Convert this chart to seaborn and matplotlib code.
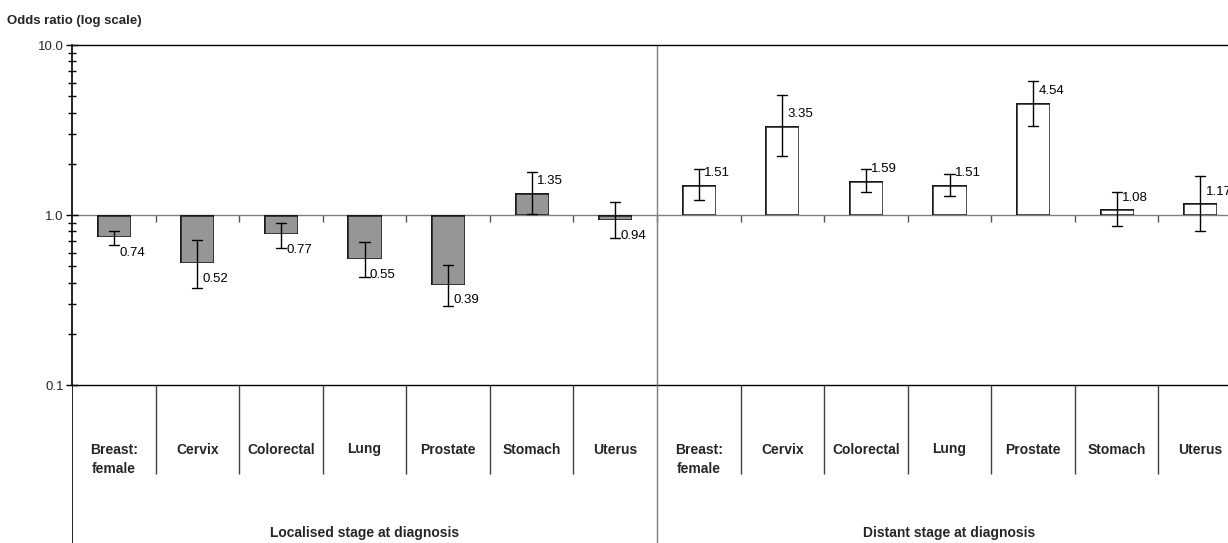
import numpy as np
import pandas as pd
import matplotlib
matplotlib.use("Agg")
import matplotlib.pyplot as plt
from matplotlib.ticker import NullFormatter
import seaborn as sns
import seaborn.objects as so

# ---------------- data ----------------
sites = ["Breast:\nfemale", "Cervix", "Colorectal", "Lung", "Prostate", "Stomach", "Uterus"]
stage_names = ["Localised", "Distant"]
stage_titles = ["Localised stage at diagnosis", "Distant stage at diagnosis"]

localised_or = [0.74, 0.52, 0.77, 0.55, 0.39, 1.35, 0.94]
localised_lo = [0.67, 0.37, 0.64, 0.43, 0.29, 1.01, 0.73]
localised_hi = [0.81, 0.71, 0.90, 0.69, 0.51, 1.80, 1.20]

distant_or = [1.51, 3.35, 1.59, 1.51, 4.54, 1.08, 1.17]
distant_lo = [1.22, 2.21, 1.36, 1.30, 3.36, 0.86, 0.81]
distant_hi = [1.86, 5.11, 1.86, 1.75, 6.15, 1.36, 1.69]

ytick_vals = [0.1, 1.0, 10.0]
ytick_labels = ["0.1", "1.0", "10.0"]
y_title = "Odds ratio (log scale)"

# ---------------- table ----------------
keys = [f"{st}|{s}" for st in stage_names for s in sites]
df = pd.DataFrame({
    "key": keys,
    "site": sites * 2,
    "stage": [stage_names[0]] * len(sites) + [stage_names[1]] * len(sites),
    "or": localised_or + distant_or,
    "lo": localised_lo + distant_lo,
    "hi": localised_hi + distant_hi,
})
df["label"] = [f"{v:.2f}" for v in df["or"]]

# ---------------- style ----------------
sns.set_theme(style="white")
plt.rcParams["font.family"] = ["Liberation Sans", "DejaVu Sans"]

W, H = 1228, 543
fig = plt.figure(figsize=(W / 100, H / 100), dpi=100)
ax_left, ax_top, ax_bot = 72, 45, 385
ax = fig.add_axes([ax_left / W, (H - ax_bot) / H, (W - ax_left) / W, (ax_bot - ax_top) / H])
tab = fig.add_axes([ax_left / W, 0, (W - ax_left) / W, (H - ax_bot) / H])

theme = {**sns.axes_style("white"), "font.family": ["Liberation Sans", "DejaVu Sans"]}

(
    so.Plot(df, x="key", y="or")
    .add(so.Bar(width=0.41, baseline=1, alpha=1, edgecolor="#1a1a1a", edgewidth=0.9),
         color="stage", legend=False)
    .add(so.Range(color="black", linewidth=1.0), ymin="lo", ymax="hi")
    .add(so.Dash(width=0.12, color="black", linewidth=1.0), y="lo")
    .add(so.Dash(width=0.12, color="black", linewidth=1.0), y="hi")
    .scale(x=so.Nominal(order=keys),
           color={stage_names[0]: "#969696", stage_names[1]: "#ffffff"})
    .theme(theme)
    .on(ax)
    .plot()
)

n = len(keys)
xmax = -0.5 + (W - ax_left) / ((W - ax_left + 14) / n)  # axes is clipped at the figure edge
ax.set_yscale("log")
ax.set_ylim(ytick_vals[0], ytick_vals[-1])
ax.set_xlim(-0.5, xmax)
ax.set_xlabel("")
ax.set_ylabel("")
ax.grid(False)
ax.set_facecolor("white")
ax.tick_params(axis="x", bottom=False, labelbottom=False, top=False)
ax.set_yticks(ytick_vals, ytick_labels)
ax.yaxis.set_minor_formatter(NullFormatter())
ax.tick_params(axis="y", which="major", direction="inout", length=8, width=1.0,
               color="black", labelsize=9.5, pad=2, left=True)
ax.tick_params(axis="y", which="minor", direction="inout", length=6, width=1.0,
               color="black", left=True)
for side in ["left", "top", "bottom"]:
    ax.spines[side].set_visible(True)
    ax.spines[side].set_color("black")
    ax.spines[side].set_linewidth(1.0)
ax.spines["left"].set_linewidth(1.2)
ax.spines["right"].set_visible(False)

# group divider
ax.axvline(len(sites) - 0.5, color="#7f7f7f", lw=1.0, zorder=0.5)

# category axis crossing at 1.0 with ticks at category boundaries
sec = ax.secondary_xaxis(0.5)
sec.set_xticks(np.arange(0.5, n - 0.5, 1.0))
sec.tick_params(axis="x", direction="in", length=5, width=1.0, color="#555555",
                labeltop=False, labelbottom=False)
for sp in sec.spines.values():
    sp.set_color("#7f7f7f")
    sp.set_linewidth(1.0)

# value labels
for i, row in df.reset_index(drop=True).iterrows():
    up = row["or"] >= 1
    ax.annotate(row["label"], xy=(i, row["or"]), xytext=(3.8, 8.5 if up else -11.5),
                textcoords="offset points", ha="left", va="center", fontsize=9.5,
                color="black")

# ---------------- category table below ----------------
tab.set_xlim(-0.5, xmax)
tab.set_ylim(H - ax_bot, 0)
tab.axis("off")
tab.axvline(-0.5, color="black", lw=1.2)
tab.axvline(len(sites) - 0.5, color="#7f7f7f", lw=1.0)
for b in np.arange(0.5, n - 0.5, 1.0):
    if abs(b - (len(sites) - 0.5)) < 1e-9:
        continue
    tab.plot([b, b], [0, 89], color="#404040", lw=1.0, solid_capstyle="butt")
for i, k in enumerate(keys):
    tab.text(i, 57.5, df["site"][i], ha="center", va="top", fontsize=10,
             fontweight="bold", linespacing=1.5)
for g, title in enumerate(stage_titles):
    tab.text(g * len(sites) + (len(sites) - 1) / 2, 148, title, ha="center",
             va="center", fontsize=10, fontweight="bold")

fig.text(7 / W, 1 - 21 / H, y_title, ha="left", va="center", fontsize=9.5,
         fontweight="bold")

fig.savefig("out.png", dpi=100)
